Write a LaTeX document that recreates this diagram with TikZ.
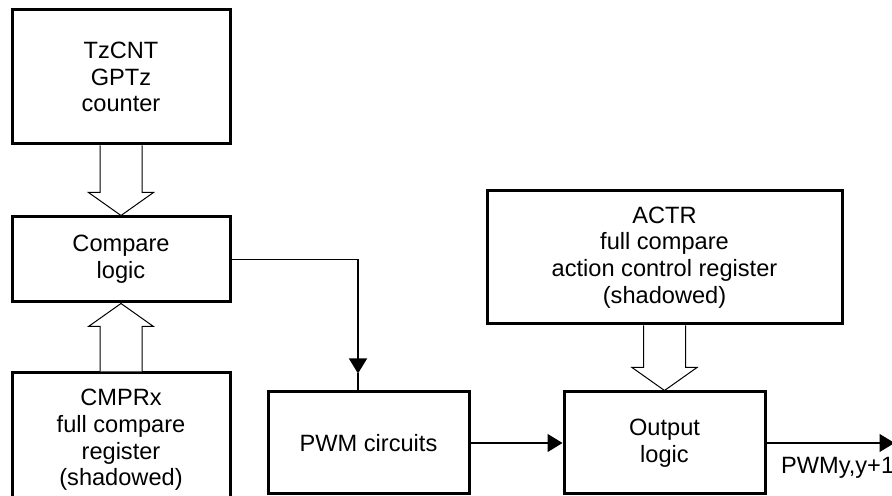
\documentclass[tikz,border=0pt]{standalone}
\usepackage{fontspec}
\setmainfont{Liberation Sans}
\usetikzlibrary{arrows.meta, positioning, calc}
\tikzset{
    block/.style={rectangle, draw, line width=1.5pt, align=center, inner sep=2pt, font=\fontsize{11.8}{13.3}\selectfont},
    wideblock/.style={block, minimum width=109pt},
    smallblock/.style={block, minimum width=100.5pt, minimum height=51pt},
    arrow/.style={line width=0.6pt, -{Triangle[length=7.5pt, width=9pt]}},
    wire/.style={line width=0.6pt},
    hollow/.style={line width=0.5pt, fill=white}
}
% wide hollow bus arrow, vertical, from #1 to #2
\newcommand{\busarrow}[2]{%
    \draw[hollow] let \p1=(#1), \p2=(#2), \p3=($(#2)!11.5pt!(#1)$) in
        (\x1-10.5pt,\y1) -- (\x1-10.5pt,\y3) -- (\x1-16.25pt,\y3) -- (\x1,\y2)
        -- (\x1+16.25pt,\y3) -- (\x1+10.5pt,\y3) -- (\x1+10.5pt,\y1);
}

\begin{document}
\begin{tikzpicture}
    \useasboundingbox (0,0) rectangle (446pt,248pt);
    \clip (0,0) rectangle (446pt,248pt);
    \node[wideblock, minimum height=67pt] (counter) at (60.5pt,209.5pt) {TzCNT\\GPTz\\counter};
    \node[wideblock, minimum height=42.5pt, below=35pt of counter] (compare) {Compare\\logic};
    \node[wideblock, minimum height=67pt, below=34pt of compare] (cmpr) {CMPRx\\full compare\\register\\(shadowed)};
    \node[smallblock] (pwm) at (184.25pt,26.5pt) {PWM circuits};
    \node[smallblock, right=46pt of pwm] (output) {Output\\logic};
    \node[block, minimum width=177.5pt, minimum height=66.5pt, above=32.5pt of output] (actr) {ACTR\\full compare\\action control register\\(shadowed)};
    \busarrow{counter.south}{compare.north}
    \busarrow{cmpr.north}{compare.south}
    \busarrow{actr.south}{output.north}
    \coordinate (pwmin) at ([xshift=-5.25pt, yshift=8.5pt]pwm.north);
    \draw[arrow] (compare.east) -| (pwmin);
    \draw[wire] (pwmin) -- (pwmin |- pwm.north);
    \draw[arrow] (pwm.east) -- (output.west);
    \coordinate (pwmout) at ([xshift=64pt]output.east);
    \draw[arrow] (output.east) -- (pwmout);
    \node[anchor=base east, inner sep=0pt, font=\fontsize{11.8}{13.3}\selectfont] (pwmlabel) at ([yshift=-15.5pt]pwmout) {PWMy,y+1};
\end{tikzpicture}
\end{document}
